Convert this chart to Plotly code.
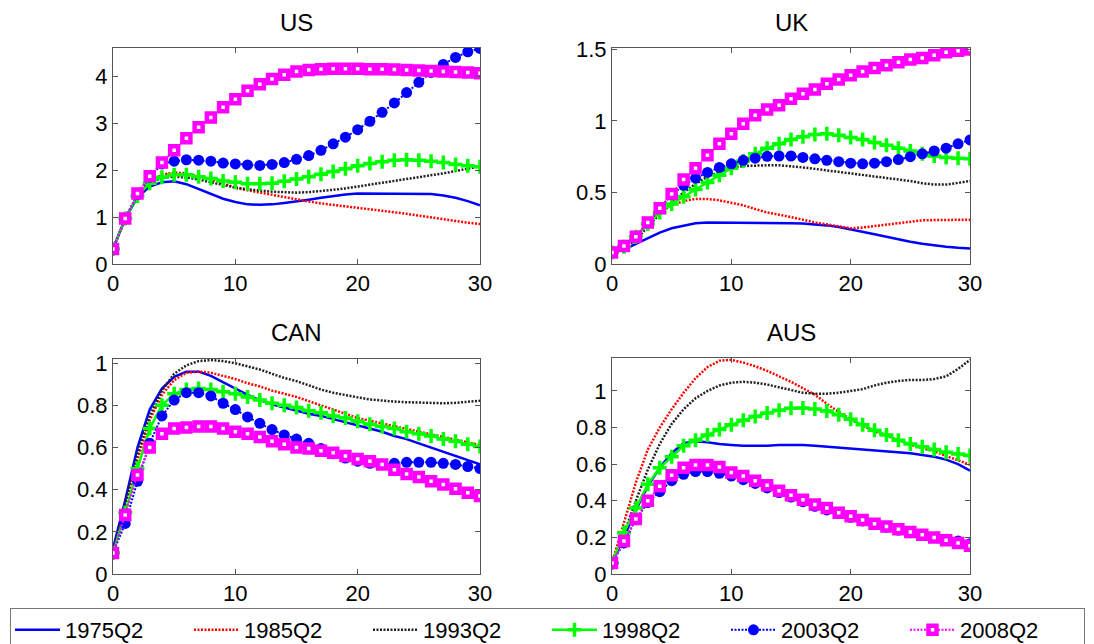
import plotly.graph_objects as go

x = list(range(31))
series_names = ["1975Q2", "1985Q2", "1993Q2", "1998Q2", "2003Q2", "2008Q2"]
panel_titles = ["US", "UK", "CAN", "AUS"]

US_1975 = [0.32,0.97,1.42,1.65,1.74,1.76,1.7,1.6,1.49,1.39,1.32,1.27,1.26,1.27,1.3,1.33,1.37,1.41,1.45,1.48,1.5,1.5,1.5,1.5,1.5,1.5,1.49,1.46,1.41,1.34,1.25]
US_1985 = [0.32,0.97,1.45,1.75,1.9,1.95,1.93,1.87,1.8,1.72,1.62,1.57,1.52,1.47,1.42,1.37,1.33,1.29,1.26,1.23,1.2,1.17,1.14,1.11,1.07,1.03,0.99,0.95,0.91,0.88,0.85]
US_1993 = [0.32,0.97,1.45,1.72,1.83,1.86,1.84,1.8,1.74,1.68,1.63,1.59,1.56,1.54,1.53,1.52,1.53,1.55,1.58,1.61,1.65,1.68,1.72,1.76,1.8,1.84,1.88,1.93,1.98,2.03,2.08]
US_1998 = [0.32,0.97,1.45,1.72,1.85,1.9,1.9,1.86,1.82,1.77,1.74,1.71,1.71,1.72,1.76,1.81,1.86,1.91,1.97,2.03,2.09,2.14,2.18,2.21,2.22,2.21,2.19,2.16,2.12,2.09,2.07]
US_2003 = [0.32,0.97,1.48,1.85,2.13,2.19,2.22,2.21,2.19,2.15,2.13,2.11,2.1,2.12,2.16,2.23,2.31,2.42,2.56,2.7,2.86,3.04,3.23,3.43,3.65,3.87,4.08,4.25,4.4,4.52,4.59]
US_2008 = [0.32,0.97,1.5,1.87,2.16,2.42,2.68,2.91,3.12,3.34,3.51,3.69,3.83,3.94,4.03,4.1,4.13,4.15,4.16,4.16,4.16,4.15,4.15,4.14,4.13,4.12,4.11,4.1,4.09,4.08,4.06]

UK_1975 = [0.08,0.1,0.14,0.18,0.22,0.25,0.27,0.285,0.29,0.29,0.288,0.287,0.286,0.286,0.286,0.285,0.283,0.278,0.27,0.258,0.243,0.226,0.208,0.19,0.172,0.156,0.142,0.13,0.12,0.113,0.108]
UK_1985 = [0.08,0.13,0.2,0.28,0.36,0.41,0.44,0.455,0.455,0.445,0.43,0.41,0.385,0.36,0.345,0.33,0.31,0.29,0.275,0.26,0.25,0.255,0.265,0.28,0.29,0.3,0.305,0.307,0.308,0.309,0.31]
UK_1993 = [0.08,0.11,0.17,0.26,0.35,0.43,0.5,0.56,0.61,0.645,0.67,0.685,0.69,0.69,0.69,0.685,0.675,0.665,0.655,0.645,0.635,0.625,0.615,0.605,0.595,0.58,0.565,0.555,0.555,0.565,0.58]
UK_1998 = [0.08,0.12,0.19,0.28,0.36,0.42,0.47,0.52,0.57,0.62,0.67,0.72,0.77,0.81,0.84,0.87,0.89,0.905,0.91,0.9,0.885,0.87,0.85,0.83,0.81,0.79,0.77,0.755,0.745,0.74,0.735]
UK_2003 = [0.08,0.12,0.19,0.29,0.39,0.485,0.55,0.6,0.64,0.675,0.7,0.725,0.74,0.753,0.755,0.755,0.745,0.735,0.725,0.715,0.705,0.7,0.705,0.715,0.73,0.75,0.77,0.79,0.81,0.84,0.867]
UK_2008 = [0.08,0.125,0.19,0.29,0.39,0.49,0.59,0.67,0.76,0.84,0.91,0.98,1.04,1.08,1.11,1.155,1.19,1.22,1.26,1.29,1.32,1.345,1.37,1.39,1.41,1.43,1.44,1.46,1.48,1.49,1.5]

CAN_1975 = [0.12,0.35,0.6,0.78,0.88,0.935,0.96,0.96,0.94,0.91,0.88,0.85,0.825,0.805,0.79,0.775,0.76,0.75,0.735,0.72,0.705,0.69,0.675,0.655,0.64,0.62,0.6,0.58,0.56,0.54,0.52]
CAN_1985 = [0.1,0.3,0.54,0.73,0.85,0.92,0.955,0.96,0.955,0.94,0.925,0.905,0.89,0.87,0.855,0.84,0.82,0.8,0.78,0.76,0.74,0.727,0.714,0.701,0.688,0.676,0.663,0.65,0.637,0.625,0.612]
CAN_1993 = [0.1,0.33,0.57,0.75,0.87,0.95,0.99,1.01,1.015,1.01,1.0,0.985,0.97,0.95,0.93,0.915,0.895,0.875,0.86,0.848,0.838,0.828,0.822,0.818,0.815,0.813,0.811,0.81,0.812,0.816,0.822]
CAN_1998 = [0.1,0.29,0.5,0.69,0.8,0.855,0.875,0.88,0.875,0.865,0.855,0.84,0.825,0.81,0.8,0.79,0.775,0.765,0.75,0.74,0.725,0.71,0.7,0.69,0.675,0.665,0.655,0.64,0.63,0.615,0.605]
CAN_2003 = [0.1,0.24,0.44,0.62,0.75,0.825,0.86,0.86,0.845,0.81,0.78,0.745,0.715,0.685,0.66,0.64,0.62,0.595,0.57,0.55,0.535,0.525,0.52,0.525,0.53,0.53,0.53,0.525,0.52,0.51,0.5]
CAN_2008 = [0.1,0.28,0.47,0.6,0.665,0.69,0.695,0.7,0.7,0.69,0.675,0.665,0.65,0.63,0.615,0.6,0.595,0.585,0.575,0.56,0.545,0.535,0.52,0.495,0.475,0.46,0.44,0.425,0.405,0.385,0.37]

AUS_1975 = [0.06,0.2,0.35,0.48,0.58,0.66,0.715,0.725,0.72,0.71,0.705,0.7,0.7,0.7,0.705,0.705,0.705,0.7,0.695,0.69,0.685,0.68,0.675,0.67,0.665,0.66,0.65,0.64,0.625,0.6,0.565]
AUS_1985 = [0.06,0.28,0.5,0.68,0.8,0.9,0.99,1.07,1.13,1.165,1.17,1.155,1.135,1.11,1.08,1.05,1.015,0.98,0.93,0.885,0.845,0.81,0.78,0.755,0.73,0.706,0.688,0.67,0.645,0.62,0.597]
AUS_1993 = [0.06,0.22,0.4,0.57,0.71,0.82,0.9,0.96,1.0,1.03,1.045,1.05,1.045,1.035,1.02,1.005,0.99,0.985,0.985,0.99,1.0,1.01,1.03,1.045,1.055,1.06,1.06,1.065,1.08,1.12,1.17]
AUS_1998 = [0.06,0.226,0.36,0.49,0.58,0.64,0.7,0.73,0.76,0.79,0.815,0.84,0.86,0.88,0.895,0.905,0.907,0.902,0.89,0.87,0.845,0.815,0.785,0.76,0.73,0.71,0.695,0.68,0.665,0.655,0.648]
AUS_2003 = [0.06,0.17,0.3,0.39,0.45,0.51,0.545,0.56,0.56,0.55,0.535,0.515,0.495,0.47,0.445,0.42,0.395,0.37,0.35,0.33,0.31,0.29,0.27,0.255,0.24,0.225,0.21,0.2,0.19,0.18,0.165]
AUS_2008 = [0.06,0.18,0.3,0.4,0.48,0.54,0.58,0.595,0.595,0.585,0.555,0.535,0.51,0.485,0.455,0.43,0.405,0.38,0.36,0.335,0.315,0.295,0.275,0.26,0.245,0.23,0.215,0.2,0.185,0.17,0.155]

panels = [
    [US_1975, US_1985, US_1993, US_1998, US_2003, US_2008],
    [UK_1975, UK_1985, UK_1993, UK_1998, UK_2003, UK_2008],
    [CAN_1975, CAN_1985, CAN_1993, CAN_1998, CAN_2003, CAN_2008],
    [AUS_1975, AUS_1985, AUS_1993, AUS_1998, AUS_2003, AUS_2008],
]
y_ranges = [[0, 4.6], [0, 1.51], [0, 1.02], [0, 1.18]]
y_ticks = [[0, 1, 2, 3, 4], [0, 0.5, 1, 1.5], [0, 0.2, 0.4, 0.6, 0.8, 1], [0, 0.2, 0.4, 0.6, 0.8, 1]]
x_ticks = [0, 10, 20, 30]

W, H = 1094, 644
# plot areas in pixels (left, right, top, bottom)
boxes = [(113, 480, 48, 264), (612, 970, 48, 264), (113, 480, 359, 574), (612, 970, 358, 574)]

styles = [
    dict(mode="lines", line=dict(color="#0000ff", width=2.5)),
    dict(mode="lines", line=dict(color="#ff0000", width=2.5, dash="2px,1.5px")),
    dict(mode="lines", line=dict(color="#222222", width=2.5, dash="2px,1.5px")),
    dict(mode="lines+markers", line=dict(color="#00ff00", width=2.5),
         marker=dict(symbol="cross-thin-open", size=10, color="#00ff00", line=dict(color="#00ff00", width=3.5))),
    dict(mode="lines+markers", line=dict(color="#0000ff", width=2, dash="2px,1.5px"),
         marker=dict(symbol="circle", size=11, color="#0000ff")),
    dict(mode="lines+markers", line=dict(color="#ff00ff", width=2, dash="2px,1.5px"),
         marker=dict(symbol="square", size=8, color="white", line=dict(color="#ff00ff", width=4.5))),
]

fig = go.Figure()
font_family = "Liberation Sans, Arial, sans-serif"

for p, (data, (l, r, t, b)) in enumerate(zip(panels, boxes)):
    ax = "" if p == 0 else str(p + 1)
    for s, (name, yv) in enumerate(zip(series_names, data)):
        st = styles[s]
        tr = go.Scatter(x=x, y=yv, name=name, xaxis="x" + ax, yaxis="y" + ax,
                        showlegend=(p == 0), legendgroup=name, **st)
        fig.add_trace(tr)
    common = dict(showline=True, linecolor="#555555", linewidth=1, mirror="ticks",
                  ticks="inside", ticklen=5, tickcolor="#555555", showgrid=False,
                  zeroline=False, tickfont=dict(size=22, color="black", family=font_family))
    fig.layout["xaxis" + ax] = dict(domain=[l / W, r / W], range=[0, 30], tickvals=x_ticks,
                                    anchor="y" + ax, **common)
    fig.layout["yaxis" + ax] = dict(domain=[1 - b / H, 1 - t / H], range=y_ranges[p],
                                    tickvals=y_ticks[p], anchor="x" + ax, **common)
    fig.add_annotation(text=panel_titles[p], x=(l + r) / 2 / W, y=1 - (t - 26) / H,
                       xref="paper", yref="paper", showarrow=False,
                       font=dict(size=24, color="black", family=font_family),
                       xanchor="center", yanchor="middle")

fig.update_layout(
    width=W, height=H,
    margin=dict(l=0, r=0, t=0, b=0, autoexpand=False),
    paper_bgcolor="white", plot_bgcolor="white",
    font=dict(family=font_family, color="black"),
    legend=dict(orientation="h", x=10 / W, y=1 - 608 / H, xanchor="left", yanchor="top",
                bordercolor="#777777", borderwidth=1, bgcolor="white",
                font=dict(size=22, color="black", family=font_family),
                entrywidth=119, entrywidthmode="pixels", itemwidth=45,
                tracegroupgap=0),
)

fig.write_html("out.html")
